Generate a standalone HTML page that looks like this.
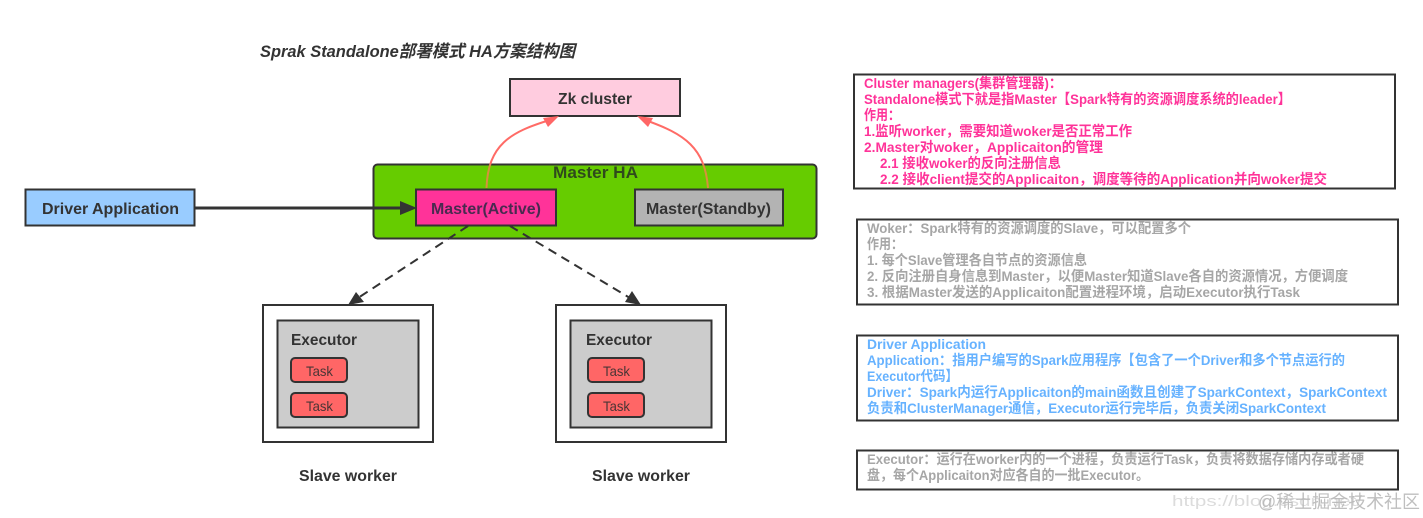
<!DOCTYPE html>
<html>
<head>
<meta charset="utf-8">
<style>
html,body{margin:0;padding:0;background:#fff;width:1423px;height:518px;overflow:hidden}
svg{display:block}
text{font-family:"Liberation Sans","Noto Sans CJK SC",sans-serif;font-weight:bold;font-size:14px}
.d{fill:#333;font-size:16px}
.p{fill:#ff3399}
.g{fill:#a6a6a6}
.b{fill:#66b2ff}
.t{font-weight:normal;fill:#4a3535;font-size:14px}
</style>
</head>
<body>
<svg width="1423" height="518" viewBox="0 0 1423 518" xmlns="http://www.w3.org/2000/svg">
<defs>
<linearGradient id="cv" gradientUnits="userSpaceOnUse" x1="0" y1="116" x2="0" y2="189">
<stop offset="0" stop-color="#ff6b66"/><stop offset="0.66" stop-color="#ff6b66"/>
<stop offset="0.67" stop-color="#d8903c"/><stop offset="1" stop-color="#d8903c"/>
</linearGradient>
</defs>
<rect width="1423" height="518" fill="#fff"/>
<text x="260" y="57" class="d" style="font-style:italic;font-size:17px" textLength="315" lengthAdjust="spacingAndGlyphs">Sprak Standalone部署模式 HA方案结构图</text>

<!-- Master HA -->
<rect x="373.500" y="164.500" width="443" height="74" rx="4" fill="#66cc00" stroke="#333" stroke-width="2"/>
<text x="553" y="178" class="d" style="fill:#2f4a1c;font-size:17px" textLength="85" lengthAdjust="spacingAndGlyphs">Master HA</text>

<!-- Zk -->
<rect x="510" y="79" width="170" height="37" fill="#ffccdf" stroke="#333" stroke-width="2"/>
<text x="558" y="104" class="d" textLength="74" lengthAdjust="spacingAndGlyphs">Zk cluster</text>

<!-- Driver -->
<rect x="25.500" y="189.500" width="169" height="36" fill="#99ccff" stroke="#333" stroke-width="2"/>
<text x="42" y="214" class="d" textLength="137" lengthAdjust="spacingAndGlyphs">Driver Application</text>
<path d="M195 208H402" stroke="#333" stroke-width="3" fill="none"/>
<path d="M400 201L417 208L400 215Z" fill="#333"/>

<!-- Masters -->
<rect x="416" y="189.500" width="140" height="36" fill="#ff3399" stroke="#333" stroke-width="2"/>
<text x="431" y="214" class="d" style="fill:#4a2a50" textLength="110" lengthAdjust="spacingAndGlyphs">Master(Active)</text>
<rect x="635" y="189.500" width="148" height="36" fill="#b3b3b3" stroke="#333" stroke-width="2"/>
<text x="646" y="214" class="d" textLength="125" lengthAdjust="spacingAndGlyphs">Master(Standby)</text>

<!-- Curves -->
<path d="M486.500 188C488 145 510 132 550 120" stroke="url(#cv)" stroke-width="2" fill="none"/>
<path d="M559 116L543 118L548 127Z" fill="#ff6666"/>
<path d="M708 188C705 148 685 134 645 120" stroke="url(#cv)" stroke-width="2" fill="none"/>
<path d="M637 116L653 118L648 127Z" fill="#ff6666"/>

<!-- Dashed -->
<path d="M468 226L358 298" stroke="#333" stroke-width="2" stroke-dasharray="9 6" fill="none"/>
<path d="M348 305L356 292L364 302Z" fill="#333"/>
<path d="M510 226L630 298" stroke="#333" stroke-width="2" stroke-dasharray="9 6" fill="none"/>
<path d="M641 305L625 302L632 291Z" fill="#333"/>

<!-- Slave 1 -->
<rect x="263" y="305" width="170" height="137" fill="#fff" stroke="#333" stroke-width="2"/>
<rect x="277.500" y="320.500" width="141" height="107" fill="#ccc" stroke="#333" stroke-width="2"/>
<text x="291" y="345" class="d" textLength="66" lengthAdjust="spacingAndGlyphs">Executor</text>
<rect x="291" y="358" width="56" height="24" rx="4" fill="#ff6666" stroke="#333" stroke-width="2"/>
<text x="306" y="376" class="t" textLength="27" lengthAdjust="spacingAndGlyphs">Task</text>
<rect x="291" y="393" width="56" height="24" rx="4" fill="#ff6666" stroke="#333" stroke-width="2"/>
<text x="306" y="411" class="t" textLength="27" lengthAdjust="spacingAndGlyphs">Task</text>
<text x="299" y="481" class="d" textLength="98" lengthAdjust="spacingAndGlyphs">Slave worker</text>

<!-- Slave 2 -->
<rect x="556" y="305" width="170" height="137" fill="#fff" stroke="#333" stroke-width="2"/>
<rect x="570.500" y="320.500" width="141" height="107" fill="#ccc" stroke="#333" stroke-width="2"/>
<text x="586" y="345" class="d" textLength="66" lengthAdjust="spacingAndGlyphs">Executor</text>
<rect x="588" y="358" width="56" height="24" rx="4" fill="#ff6666" stroke="#333" stroke-width="2"/>
<text x="603" y="376" class="t" textLength="27" lengthAdjust="spacingAndGlyphs">Task</text>
<rect x="588" y="393" width="56" height="24" rx="4" fill="#ff6666" stroke="#333" stroke-width="2"/>
<text x="603" y="411" class="t" textLength="27" lengthAdjust="spacingAndGlyphs">Task</text>
<text x="592" y="481" class="d" textLength="98" lengthAdjust="spacingAndGlyphs">Slave worker</text>

<!-- Note 1 -->
<rect x="854" y="74.500" width="541" height="114" fill="#fff" stroke="#333" stroke-width="2"/>
<text class="p" x="864" y="88" textLength="198" lengthAdjust="spacingAndGlyphs">Cluster managers(集群管理器)：</text>
<text class="p" x="864" y="104" textLength="427" lengthAdjust="spacingAndGlyphs">Standalone模式下就是指Master【Spark特有的资源调度系统的leader】</text>
<text class="p" x="864" y="120" textLength="36" lengthAdjust="spacingAndGlyphs">作用：</text>
<text class="p" x="864" y="136" textLength="268" lengthAdjust="spacingAndGlyphs">1.监听worker，需要知道woker是否正常工作</text>
<text class="p" x="864" y="152" textLength="239" lengthAdjust="spacingAndGlyphs">2.Master对woker，Applicaiton的管理</text>
<text class="p" x="880" y="168" textLength="181" lengthAdjust="spacingAndGlyphs">2.1 接收woker的反向注册信息</text>
<text class="p" x="880" y="184" textLength="447" lengthAdjust="spacingAndGlyphs">2.2 接收client提交的Applicaiton，调度等待的Application并向woker提交</text>

<!-- Note 2 -->
<rect x="857" y="219.500" width="541" height="85" fill="#fff" stroke="#333" stroke-width="2"/>
<text class="g" x="867" y="233" textLength="324" lengthAdjust="spacingAndGlyphs">Woker：Spark特有的资源调度的Slave，可以配置多个</text>
<text class="g" x="867" y="249" textLength="36" lengthAdjust="spacingAndGlyphs">作用：</text>
<text class="g" x="867" y="265" textLength="220" lengthAdjust="spacingAndGlyphs">1. 每个Slave管理各自节点的资源信息</text>
<text class="g" x="867" y="281" textLength="481" lengthAdjust="spacingAndGlyphs">2. 反向注册自身信息到Master，以便Master知道Slave各自的资源情况，方便调度</text>
<text class="g" x="867" y="297" textLength="433" lengthAdjust="spacingAndGlyphs">3. 根据Master发送的Applicaiton配置进程环境，启动Executor执行Task</text>

<!-- Note 3 -->
<rect x="857" y="335.500" width="541" height="85" fill="#fff" stroke="#333" stroke-width="2"/>
<text class="b" x="867" y="349" textLength="119" lengthAdjust="spacingAndGlyphs">Driver Application</text>
<text class="b" x="867" y="365" textLength="478" lengthAdjust="spacingAndGlyphs">Application：指用户编写的Spark应用程序【包含了一个Driver和多个节点运行的</text>
<text class="b" x="867" y="381" textLength="91" lengthAdjust="spacingAndGlyphs">Executor代码】</text>
<text class="b" x="867" y="397" textLength="520" lengthAdjust="spacingAndGlyphs">Driver：Spark内运行Applicaiton的main函数且创建了SparkContext，SparkContext</text>
<text class="b" x="867" y="413" textLength="459" lengthAdjust="spacingAndGlyphs">负责和ClusterManager通信，Executor运行完毕后，负责关闭SparkContext</text>

<!-- Note 4 -->
<rect x="857" y="450.500" width="541" height="39" fill="#fff" stroke="#333" stroke-width="2"/>
<text class="g" x="867" y="464" textLength="497" lengthAdjust="spacingAndGlyphs">Executor：运行在worker内的一个进程，负责运行Task，负责将数据存储内存或者硬</text>
<text class="g" x="867" y="480" textLength="282" lengthAdjust="spacingAndGlyphs">盘，每个Applicaiton对应各自的一批Executor。</text>

<!-- Watermarks -->
<text x="1172" y="506" style="font-weight:normal;font-size:15px;fill:#dcdcdc" textLength="190" lengthAdjust="spacingAndGlyphs">https://blog.csdn.net/</text>
<text x="1258" y="508" style="font-weight:normal;font-size:18px;fill:#b5b5b5;opacity:.85" textLength="162" lengthAdjust="spacingAndGlyphs">@稀土掘金技术社区</text>
</svg>
</body>
</html>
